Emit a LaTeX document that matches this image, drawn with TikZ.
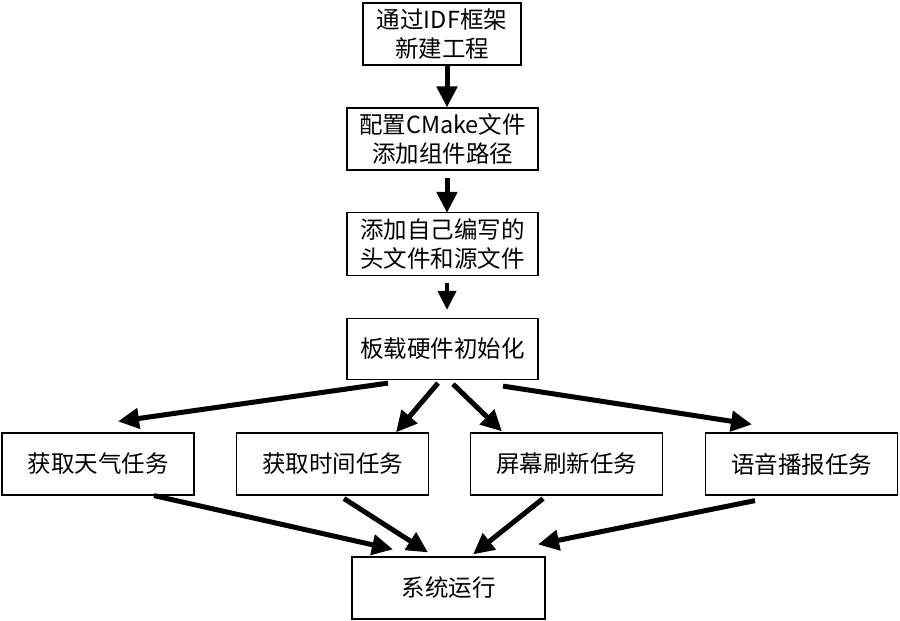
\documentclass[tikz,border=0pt]{standalone}
\usepackage{fontspec}
\newfontfamily\cjk{Noto Sans CJK SC}
\usetikzlibrary{calc,arrows.meta}

\begin{document}
\begin{tikzpicture}[
          x=1pt, y=-1pt,
          stepbox/.style={draw, line width=1.2pt, minimum width=191pt, minimum height=62pt, align=center, font=\cjk\fontsize{23.5}{29}\selectfont, inner sep=0pt},
          taskbox/.style={stepbox, minimum width=192pt},
          flow/.style={line width=5pt, -{Triangle[length=21pt,width=20pt]}},
          thin flow/.style={line width=4pt, -{Triangle[length=19pt,width=18pt]}},
          node distance=105pt,
          ]

          \useasboundingbox (0,0) rectangle (900,621);

          \node[stepbox, minimum width=158pt] (proj) at (442,34) {通过IDF框架\\新建工程};
          \node[stepbox, below of=proj, xshift=0.5pt] (cmake) {配置CMake文件\\添加组件路径};
          \node[stepbox, below of=cmake, minimum height=63pt] (src) {添加自己编写的\\头文件和源文件};
          \node[stepbox, below of=src, minimum height=61pt] (init) {板载硬件初始化};

          \node[taskbox] (weather) at (98,464) {获取天气任务};
          \node[taskbox, right of=weather, node distance=234.5pt] (time) {获取时间任务};
          \node[taskbox, right of=time, node distance=234pt] (screen) {屏幕刷新任务};
          \node[taskbox, right of=screen, node distance=235pt] (voice) {语音播报任务};

          \node[taskbox, minimum width=193pt] (run) at (448.5,588) {系统运行};

          \draw[flow] ($(proj.south)+(5,0)$) -- ($(cmake.north)+(4.5,0)$);
          \draw[flow] ($(cmake.south)+(4.5,7)$) -- ($(src.north)+(4.5,1)$);
          \draw[thin flow] ($(src.south)+(4.5,7)$) -- ($(init.north)+(4.5,-8)$);

          \draw[flow] ($(init.south)+(-54.5,3)$) -- ($(weather.north)+(20,-11)$);
          \draw[flow] ($(init.south)+(-4.5,3)$) -- ($(time.north)+(63.5,0)$);
          \draw[flow] ($(init.south)+(10.5,4)$) -- ($(screen.north)+(-64.5,-1)$);
          \draw[flow] ($(init.south)+(60.5,6)$) -- ($(voice.north)+(-49.5,-8)$);

          \draw[flow] ($(weather.south)+(56,0)$) -- ($(run.north)+(-55.5,-7)$);
          \draw[flow] ($(time.south)+(11.5,3)$) -- ($(run.north)+(-20.5,-4)$);
          \draw[flow] ($(screen.south)+(-23.5,3)$) -- ($(run.north)+(24.5,-2)$);
          \draw[flow] ($(voice.south)+(-46.5,5)$) -- ($(run.north)+(89.5,-12)$);

        \end{tikzpicture}
\end{document}
